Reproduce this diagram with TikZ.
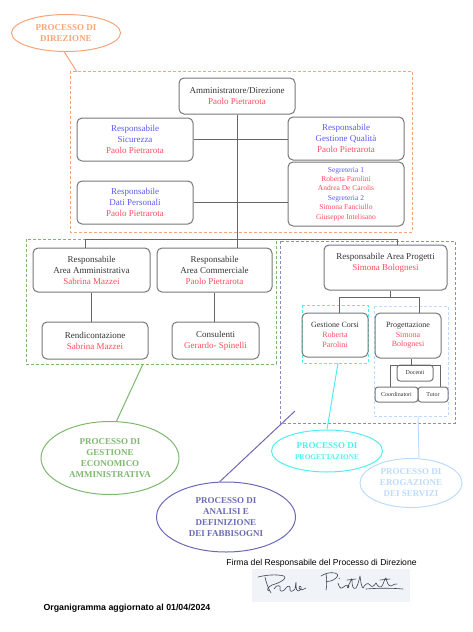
\documentclass[tikz,border=0pt]{standalone}
\usepackage{fontspec}
\setmainfont{Liberation Serif}
\setsansfont{Liberation Sans}
\usepackage{xcolor}
\usepackage{tikz}
\usetikzlibrary{shapes.geometric}

\definecolor{nome}{HTML}{FF4C5C}
\definecolor{ruolo}{HTML}{5A5AF0}
\definecolor{testo}{HTML}{333333}
\definecolor{bordo}{HTML}{777777}
\definecolor{dir}{HTML}{F6A57A}
\definecolor{eco}{HTML}{7DB86E}
\definecolor{ana}{HTML}{6A6AB4}
\definecolor{anabox}{HTML}{8C8CC8}
\definecolor{pro}{HTML}{4CF0F0}
\definecolor{ero}{HTML}{BCDCFA}
\definecolor{carta}{HTML}{F0F3F8}
\definecolor{inchiostro}{HTML}{3C4252}

\begin{document}
\begin{tikzpicture}[x=1pt,y=-1pt,
  box/.style={draw=bordo, line width=1pt, rounded corners=5pt, inner sep=0pt, align=center, text=testo, font=\fontsize{9}{11}\selectfont},
  small/.style={font=\fontsize{8}{9.7}\selectfont},
  tiny/.style={font=\fontsize{6}{7}\selectfont},
  link/.style={draw=black!60, line width=0.9pt},
  area/.style={densely dashed, line width=0.7pt},
  proc/.style={ellipse, draw, line width=1pt, inner sep=0pt, align=center, font=\bfseries\fontsize{9}{11}\selectfont},
  firma/.style={draw=inchiostro, line width=0.6pt, line cap=round, line join=round}
]
\useasboundingbox (0,0) rectangle (472,632);

\draw[area, dir] (70,71) rectangle (412,232);
\draw[area, eco] (26,239) rectangle (276,364);
\draw[area, anabox] (280,241) rectangle (455,423);
\draw[area, pro] (302,305) rectangle (368,363);
\draw[area, ero] (374,306) rectangle (448,416);

\node[box, minimum width=116pt, minimum height=36pt] (amm) at (237,96) {Amministratore/Direzione\\\textcolor{nome}{Paolo Pietrarota}};
\node[box, minimum width=116pt, minimum height=43pt] (sic) at (135,139.5) {\textcolor{ruolo}{Responsabile}\\\textcolor{ruolo}{Sicurezza}\\\textcolor{nome}{Paolo Pietrarota}};
\node[box, minimum width=116pt, minimum height=43pt] (qua) at (346,138.5) {\textcolor{ruolo}{Responsabile}\\\textcolor{ruolo}{Gestione Qualità}\\\textcolor{nome}{Paolo Pietrarota}};
\node[box, minimum width=116pt, minimum height=43pt] (dat) at (135,202.5) {\textcolor{ruolo}{Responsabile}\\\textcolor{ruolo}{Dati Personali}\\\textcolor{nome}{Paolo Pietrarota}};
\node[box, minimum width=116pt, minimum height=64pt, font=\fontsize{7.5}{9.4}\selectfont] (seg) at (346,194) {\textcolor{ruolo}{Segreteria 1}\\\textcolor{nome}{Roberta Parolini}\\\textcolor{nome}{Andrea De Carolis}\\\textcolor{ruolo}{Segreteria 2}\\\textcolor{nome}{Simona Fanciullo}\\\textcolor{nome}{Giuseppe Intelisano}};

\node[box, minimum width=117pt, minimum height=44pt] (adm) at (91.5,270) {Responsabile\\Area Amministrativa\\\textcolor{nome}{Sabrina Mazzei}};
\node[box, minimum width=115pt, minimum height=44pt] (com) at (214.5,270) {Responsabile\\Area Commerciale\\\textcolor{nome}{Paolo Pietrarota}};
\node[box, minimum width=106pt, minimum height=37pt] (ren) at (95,340.5) {Rendicontazione\\\textcolor{nome}{Sabrina Mazzei}};
\node[box, minimum width=87pt, minimum height=37pt] (con) at (215.5,340.5) {Consulenti\\\textcolor{nome}{Gerardo- Spinelli}};

\node[box, minimum width=123pt, minimum height=45pt] (apr) at (385.5,267.5) {Responsabile Area Progetti\\\textcolor{nome}{Simona Bolognesi}\\\mbox{}};
\node[box, small, minimum width=66pt, minimum height=44pt] (gco) at (335,335) {Gestione Corsi\\\textcolor{nome}{Roberta}\\\textcolor{nome}{Parolini}};
\node[box, small, minimum width=66pt, minimum height=45pt] (prg) at (408,335.5) {Progettazione\\\textcolor{nome}{Simona}\\\textcolor{nome}{Bolognesi}};
\node[box, tiny, minimum width=36pt, minimum height=16pt, rounded corners=3pt] (doc) at (415,373) {Docenti};
\node[box, tiny, minimum width=43pt, minimum height=15pt, rounded corners=3pt] (coo) at (396.5,394.5) {Coordinatori};
\node[box, tiny, minimum width=30pt, minimum height=15pt, rounded corners=3pt] (tut) at (433,394.5) {Tutor};

\coordinate (bl) at (85,239);
\coordinate (br) at (397,239);
\coordinate (pm) at (390,297);
\coordinate (pl) at (339,297);
\coordinate (pr) at (419,297);
\coordinate (dm) at (411,365);
\coordinate (dl) at (390,365);
\coordinate (dr) at (440,365);

\draw[link] (amm.south) -- (amm.south |- com.north);
\draw[link] (sic.east) -- (sic.east -| qua.west);
\draw[link] (dat.east) -- (dat.east -| seg.west);
\draw[link] (bl |- adm.north) -- (bl) -- (br) -- (br |- apr.north);
\draw[link] (adm.south) -- (adm.south |- ren.north);
\draw[link] (com.south) -- (com.south |- con.north);
\draw[link] (pm |- apr.south) -- (pm);
\draw[link] (pl |- gco.north) -- (pl) -- (pr) -- (pr |- prg.north);
\draw[link] (dm |- prg.south) -- (dm);
\draw[link] (dl |- coo.north) -- (dl) -- (dr) -- (dr |- tut.north);

\node[proc, draw=dir, text=dir, minimum width=109pt, minimum height=37pt] (pdir) at (66,33) {PROCESSO DI\\DIREZIONE};
\node[proc, draw=eco, text=eco, minimum width=138pt, minimum height=73pt] (pgea) at (110,458) {PROCESSO DI\\GESTIONE\\ECONOMICO\\AMMINISTRATIVA};
\node[proc, draw=ana, text=ana, minimum width=139pt, minimum height=70pt] (pana) at (226,517) {PROCESSO DI\\ANALISI E\\DEFINIZIONE\\DEI FABBISOGNI};
\node[proc, draw=pro, text=pro, minimum width=111pt, minimum height=42pt] (ppro) at (327,451) {PROCESSO DI\\{\fontsize{7.3}{9}\selectfont PROGETTAZIONE}};
\node[proc, draw=ero, text=ero, minimum width=102pt, minimum height=49pt] (pero) at (411,483) {PROCESSO DI\\EROGAZIONE\\DEI SERVIZI};

\coordinate (kdir) at (77,72);
\coordinate (keco) at (143,364);
\coordinate (kana) at (295,411);
\coordinate (kpro) at (338,363);
\coordinate (kero) at (418,416);

\foreach \e/\a/\k/\c in {pdir/265/kdir/dir, pgea/80/keco/eco, pana/100/kana/ana, ppro/90/kpro/pro, pero/72/kero/ero}
  \draw[\c, line width=1pt] (\e.\a) -- (\k);

\node[font=\sffamily\fontsize{8.6}{10}\selectfont] (fir) at (321.5,563) {Firma del Responsabile del Processo di Direzione};
\fill[carta] (252,569) rectangle (410,602);
\draw[firma] (258,577) .. controls (266,575) and (276,574) .. (284,576) .. controls (288,578) and (280,583) .. (272,585) .. controls (268,587) and (266,590) .. (269,591);
\draw[firma] (265,577) .. controls (266,582) and (268,588) .. (271,593);
\draw[firma] (274,589) .. controls (276,584) and (282,585) .. (280,589) .. controls (279,592) and (284,592) .. (286,588) .. controls (288,585) and (291,586) .. (290,589) .. controls (289,592) and (293,592) .. (295,589) .. controls (296,584) and (296,578) .. (296,586) .. controls (296,592) and (299,592) .. (301,589) .. controls (302,586) and (299,585) .. (299,588) .. controls (300,591) and (304,590) .. (306,588);
\draw[firma] (326,574) .. controls (327,580) and (327,585) .. (326,590);
\draw[firma] (321,576) .. controls (330,570) and (342,573) .. (336,578) .. controls (333,581) and (328,582) .. (326,581);
\draw[firma] (338,583) .. controls (339,586) and (340,589) .. (342,588) .. controls (345,586) and (347,584) .. (349,586) .. controls (350,588) and (346,589) .. (348,586) .. controls (351,582) and (352,576) .. (352,580) .. controls (352,586) and (353,590) .. (356,588) .. controls (358,585) and (359,580) .. (360,576) .. controls (361,582) and (361,586) .. (363,588) .. controls (365,584) and (368,582) .. (370,585) .. controls (372,588) and (374,586) .. (376,583) .. controls (378,587) and (380,588) .. (382,586) .. controls (384,583) and (385,577) .. (386,578) .. controls (387,582) and (388,586) .. (391,586) .. controls (394,585) and (395,583) .. (397,584);
\draw[firma] (339,578) -- (339.5,579);
\draw[firma] (347,580) -- (356,579);
\draw[firma] (380,580) -- (390,579);
\draw[firma] (366,589) .. controls (378,588) and (392,588) .. (403,589);
\node[font=\sffamily\bfseries\fontsize{8.8}{10}\selectfont, anchor=west] (org) at (40,608) {Organigramma aggiornato al 01/04/2024};
\end{tikzpicture}
\end{document}
